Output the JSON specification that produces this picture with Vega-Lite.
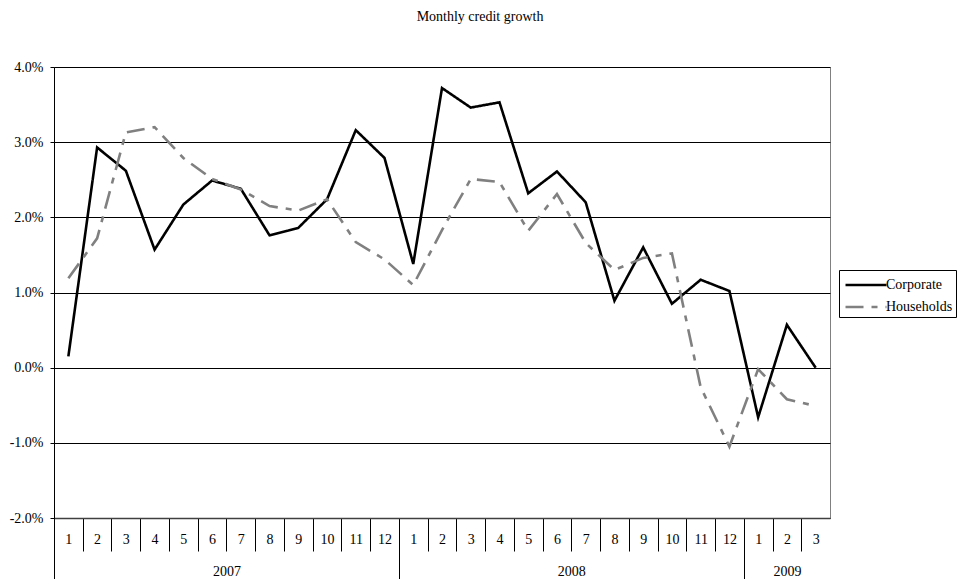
{
  "$schema": "https://vega.github.io/schema/vega-lite/v6.json",
  "width": 776,
  "height": 451,
  "autosize": {"type": "none"},
  "padding": {"left": 54, "top": 67, "right": 131, "bottom": 61},
  "background": "white",
  "config": {
    "font": "Liberation Serif",
    "view": {"stroke": "#808080", "strokeWidth": 1}
  },
  "title": {
    "text": "Monthly credit growth",
    "font": "Liberation Serif",
    "fontSize": 14,
    "fontWeight": "normal",
    "color": "black",
    "offset": 36,
    "dx": 38
  },
  "datasets": {
    "years": [
      {"year": "2007", "start": 0, "end": 12},
      {"year": "2008", "start": 12, "end": 24},
      {"year": "2009", "start": 24, "end": 27}
    ],
    "growth": [
      {"period": "2007-01", "series": "Corporate", "value": 0.0015},
      {"period": "2007-02", "series": "Corporate", "value": 0.0293},
      {"period": "2007-03", "series": "Corporate", "value": 0.0262},
      {"period": "2007-04", "series": "Corporate", "value": 0.0157},
      {"period": "2007-05", "series": "Corporate", "value": 0.0217},
      {"period": "2007-06", "series": "Corporate", "value": 0.0249},
      {"period": "2007-07", "series": "Corporate", "value": 0.0238},
      {"period": "2007-08", "series": "Corporate", "value": 0.0176},
      {"period": "2007-09", "series": "Corporate", "value": 0.0186},
      {"period": "2007-10", "series": "Corporate", "value": 0.0224},
      {"period": "2007-11", "series": "Corporate", "value": 0.0316},
      {"period": "2007-12", "series": "Corporate", "value": 0.0279},
      {"period": "2008-01", "series": "Corporate", "value": 0.0138},
      {"period": "2008-02", "series": "Corporate", "value": 0.0372},
      {"period": "2008-03", "series": "Corporate", "value": 0.0346},
      {"period": "2008-04", "series": "Corporate", "value": 0.0353},
      {"period": "2008-05", "series": "Corporate", "value": 0.0232},
      {"period": "2008-06", "series": "Corporate", "value": 0.0261},
      {"period": "2008-07", "series": "Corporate", "value": 0.0220},
      {"period": "2008-08", "series": "Corporate", "value": 0.0089},
      {"period": "2008-09", "series": "Corporate", "value": 0.0160},
      {"period": "2008-10", "series": "Corporate", "value": 0.0085},
      {"period": "2008-11", "series": "Corporate", "value": 0.0117},
      {"period": "2008-12", "series": "Corporate", "value": 0.0102},
      {"period": "2009-01", "series": "Corporate", "value": -0.0066},
      {"period": "2009-02", "series": "Corporate", "value": 0.0057},
      {"period": "2009-03", "series": "Corporate", "value": 0.0000},
      {"period": "2007-01", "series": "Households", "value": 0.0119},
      {"period": "2007-02", "series": "Households", "value": 0.0172},
      {"period": "2007-03", "series": "Households", "value": 0.0313},
      {"period": "2007-04", "series": "Households", "value": 0.0320},
      {"period": "2007-05", "series": "Households", "value": 0.0279},
      {"period": "2007-06", "series": "Households", "value": 0.0251},
      {"period": "2007-07", "series": "Households", "value": 0.0237},
      {"period": "2007-08", "series": "Households", "value": 0.0215},
      {"period": "2007-09", "series": "Households", "value": 0.0209},
      {"period": "2007-10", "series": "Households", "value": 0.0224},
      {"period": "2007-11", "series": "Households", "value": 0.0167},
      {"period": "2007-12", "series": "Households", "value": 0.0144},
      {"period": "2008-01", "series": "Households", "value": 0.0110},
      {"period": "2008-02", "series": "Households", "value": 0.0183},
      {"period": "2008-03", "series": "Households", "value": 0.0251},
      {"period": "2008-04", "series": "Households", "value": 0.0247},
      {"period": "2008-05", "series": "Households", "value": 0.0182},
      {"period": "2008-06", "series": "Households", "value": 0.0231},
      {"period": "2008-07", "series": "Households", "value": 0.0166},
      {"period": "2008-08", "series": "Households", "value": 0.0130},
      {"period": "2008-09", "series": "Households", "value": 0.0146},
      {"period": "2008-10", "series": "Households", "value": 0.0152},
      {"period": "2008-11", "series": "Households", "value": -0.0026},
      {"period": "2008-12", "series": "Households", "value": -0.0105},
      {"period": "2009-01", "series": "Households", "value": -0.0002},
      {"period": "2009-02", "series": "Households", "value": -0.0042},
      {"period": "2009-03", "series": "Households", "value": -0.0051}
    ]
  },
  "layer": [
    {
      "data": {"name": "years"},
      "mark": {"type": "rect", "fill": "transparent", "strokeWidth": 0},
      "encoding": {
        "x": {
          "field": "start",
          "type": "quantitative",
          "scale": {"domain": [0, 27], "nice": false, "zero": false},
          "axis": {
            "orient": "bottom",
            "values": [0, 6, 12, 18, 24, 25.5],
            "labelExpr": "datum.value == 6 ? '2007' : datum.value == 18 ? '2008' : datum.value == 25.5 ? '2009' : ''",
            "tickSize": 61,
            "tickColor": "black",
            "tickWidth": 1,
            "tickOpacity": {"condition": {"test": "datum.value % 12 == 0", "value": 1}, "value": 0},
            "labelPadding": -15,
            "labelFontSize": 14,
            "labelFont": "Liberation Serif",
            "labelColor": "black",
            "labelFlush": false,
            "labelOverlap": false,
            "labelBound": false,
            "domain": false,
            "grid": false,
            "title": null
          }
        },
        "x2": {"field": "end"}
      }
    },
    {
      "data": {"name": "growth"},
      "mark": {"type": "line", "strokeWidth": 2.6},
      "encoding": {
        "x": {
          "field": "period",
          "type": "ordinal",
          "scale": {"paddingInner": 0, "paddingOuter": 0},
          "axis": {
            "orient": "bottom",
            "labelExpr": "toNumber(split(datum.label, '-')[1])",
            "labelAngle": 0,
            "tickBand": "extent",
            "tickSize": 33,
            "tickColor": "black",
            "tickWidth": 1,
            "tickOpacity": {"condition": {"test": "datum.value == '2009-03'", "value": 0}, "value": 1},
            "labelPadding": -19,
            "labelFontSize": 14,
            "labelFont": "Liberation Serif",
            "labelColor": "black",
            "domainColor": "#404040",
            "domainWidth": 1.5,
            "grid": false,
            "title": null
          }
        },
        "y": {
          "field": "value",
          "type": "quantitative",
          "scale": {"domain": [-0.02, 0.04], "nice": false, "zero": false},
          "axis": {
            "values": [-0.02, -0.01, 0, 0.01, 0.02, 0.03, 0.04],
            "labelExpr": "replace(format(datum.value, '.1%'), '\u2212', '-')",
            "grid": true,
            "gridColor": "black",
            "gridWidth": 1,
            "tickSize": 4,
            "tickColor": "black",
            "domainColor": "black",
            "domainWidth": 1,
            "labelPadding": 7,
            "labelFontSize": 14,
            "labelFont": "Liberation Serif",
            "labelColor": "black",
            "title": null
          }
        },
        "color": {
          "field": "series",
          "type": "nominal",
          "scale": {"domain": ["Corporate", "Households"], "range": ["black", "#808080"]},
          "legend": {
            "orient": "none",
            "legendX": 785,
            "legendY": 203,
            "title": null,
            "strokeColor": "black",
            "padding": 3,
            "symbolType": "M-2,0H2",
            "symbolSize": 420,
            "symbolStrokeWidth": 2.6,
            "symbolOffset": 12,
            "labelFontSize": 14,
            "labelFont": "Liberation Serif",
            "labelColor": "black",
            "labelOffset": 8,
            "rowPadding": 3
          }
        },
        "strokeDash": {
          "field": "series",
          "type": "nominal",
          "scale": {"domain": ["Corporate", "Households"], "range": [[1, 0], [18, 8, 6, 8]]}
        }
      }
    }
  ],
  "resolve": {"scale": {"x": "independent"}, "axis": {"x": "independent"}}
}
